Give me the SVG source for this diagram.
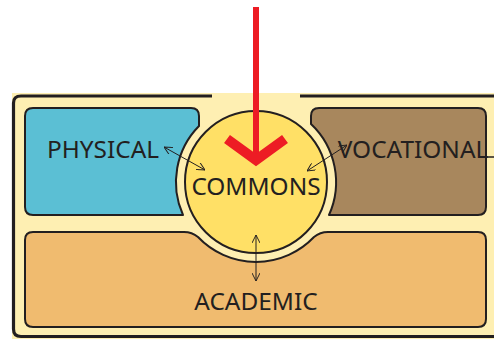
<svg xmlns="http://www.w3.org/2000/svg" width="494" height="339" viewBox="0 0 494 339">
<style>
.box{stroke:#231F20;stroke-width:2;stroke-linejoin:round}
.lbl{font-family:"Noto Sans","Open Sans",sans-serif;font-size:24.4px;fill:#231F20;text-anchor:middle}
.con{stroke:#231F20;stroke-width:1;fill:none;marker-start:url(#ah);marker-end:url(#ah)}
</style>
<defs>
<marker id="ah" viewBox="0 0 10 10" refX="10" refY="5" markerWidth="8" markerHeight="8" markerUnits="userSpaceOnUse" orient="auto-start-reverse">
<path d="M0,0 L10,5 L0,10" fill="none" stroke="#231F20" stroke-width="1.2"/>
</marker>
</defs>
<g id="frame">
<rect x="12" y="93" width="490" height="246" fill="#FEEFB2"/>
<path d="M212,96 H21 Q13.5,96 13.5,103 V329 Q13.5,336.5 21,336.5 H500 M300,96 H500" fill="none" stroke="#231F20" stroke-width="3.2"/>
</g>
<g id="physical">
<path class="box" fill="#5BBFD4" d="M33,108 H191 Q199,108 199,116 V126 A80,80 0 0 0 183,215 H33 Q25,215 25,207 V116 Q25,108 33,108 Z"/>
<text class="lbl" x="103" y="158">PHYSICAL</text>
</g>
<g id="vocational">
<path class="box" fill="#A8875D" d="M319,108 H478 Q486,108 486,116 V207 Q486,215 478,215 H329 A80,80 0 0 0 311,124 V116 Q311,108 319,108 Z"/>
<text class="lbl" x="413" y="158">VOCATIONAL</text>
</g>
<g id="academic">
<path class="box" fill="#F0BB6F" d="M33,232 H184 Q192,232 198,237 A80,80 0 0 0 314,237 Q320,232 328,232 H478 Q486,232 486,240 V319 Q486,327 478,327 H33 Q25,327 25,319 V240 Q25,232 33,232 Z"/>
<text class="lbl" x="256" y="310">ACADEMIC</text>
</g>
<g id="commons">
<circle cx="256" cy="182" r="71" fill="#FFE066" stroke="#231F20" stroke-width="2"/>
<text class="lbl" x="256" y="195">COMMONS</text>
</g>
<g id="connectors">
<line class="con" x1="164" y1="147" x2="205" y2="170"/>
<line class="con" x1="347" y1="145" x2="307" y2="171"/>
<line class="con" x1="256" y1="235" x2="256" y2="281"/>
<line x1="485" y1="157" x2="494" y2="157" stroke="#231F20" stroke-width="1.5"/>
</g>
<g id="pointer">
<line x1="256" y1="7" x2="256" y2="160" stroke="#ED1C24" stroke-width="6"/>
<polyline points="227,139 256,160 285,139" fill="none" stroke="#ED1C24" stroke-width="10" stroke-linejoin="miter"/>
</g>
</svg>
